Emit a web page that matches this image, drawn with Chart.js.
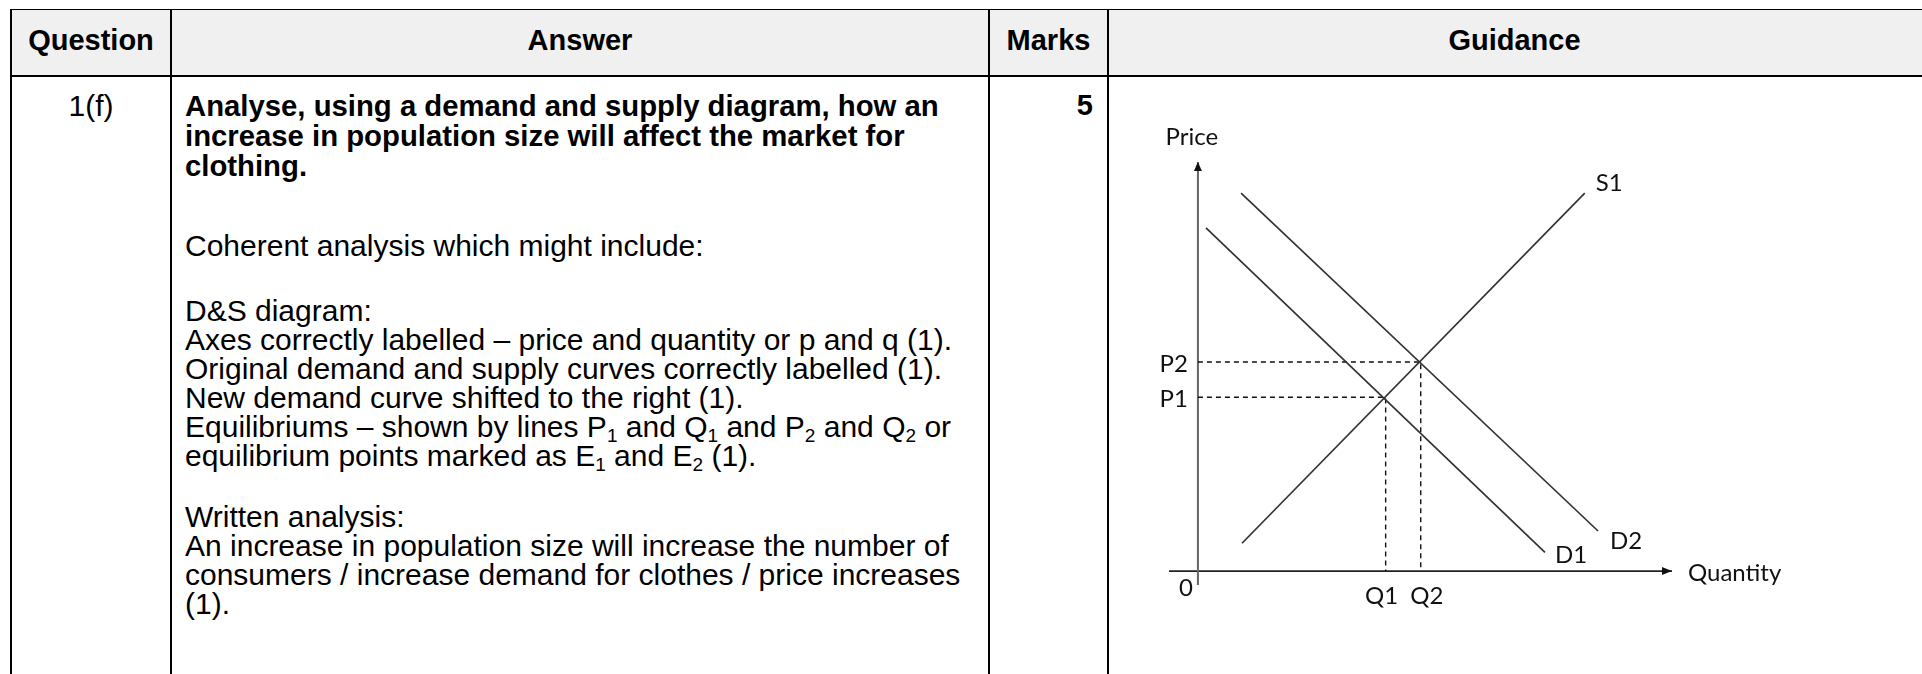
<!DOCTYPE html>
<html lang="en">
<head>
<meta charset="UTF-8">
<title>1(f) Mark scheme</title>
<style>
    body {
        margin: 0;
        width: 1922px;
        height: 674px;
        overflow: hidden;
        position: relative;
        background: #fff;
        font-family: "Liberation Sans", Arial, sans-serif;
        color: #000;
    }
    table {
        position: absolute;
        left: 10px;
        top: 9px;
        border-collapse: collapse;
        table-layout: fixed;
        width: 1940px;
    }
    th, td {
        border: 2px solid #000;
        padding: 0;
        vertical-align: top;
    }
    th {
        background: #f0f0f0;
        font-size: 29px;
        font-weight: bold;
        height: 60px;
        padding-bottom: 5px;
        vertical-align: middle;
        text-align: center;
        border-top-width: 1px;
        border-bottom-width: 2px;
    }
    td {
        height: 700px;
        font-size: 30px;
        line-height: 29px;
        padding-top: 14px;
    }
    .b { font-weight: bold; font-size: 29.3px; line-height: 30px; }
    .q { text-align: center; }
    .ans { padding-left: 13px; white-space: nowrap; }
    .marks { text-align: right; padding-right: 14px; font-weight: bold; font-size: 29px; }
    sub {
        font-size: 19px;
        vertical-align: -5px;
        line-height: 0;
    }
    #diagram {
        position: absolute;
        left: 1112px;
        top: 80px;
    }
</style>
</head>
<body>
    <table>
        <colgroup>
            <col style="width:160px">
            <col style="width:818px">
            <col style="width:119px">
            <col style="width:843px">
        </colgroup>
        <tr>
            <th>Question</th>
            <th>Answer</th>
            <th>Marks</th>
            <th style="padding-right:30px">Guidance</th>
        </tr>
        <tr>
            <td class="q">1(f)</td>
            <td class="ans">
                <div class="b">Analyse, using a demand and supply diagram, how an<br>
                increase in population size will affect the market for<br>
                clothing.</div>
                <div style="margin-top:50px">Coherent analysis which might include:</div>
                <div style="margin-top:36px">
                D&amp;S diagram:<br>
                Axes correctly labelled – price and quantity or p and q (1).<br>
                Original demand and supply curves correctly labelled (1).<br>
                New demand curve shifted to the right (1).<br>
                Equilibriums – shown by lines P<sub>1</sub> and Q<sub>1</sub> and P<sub>2</sub> and Q<sub>2</sub> or<br>
                equilibrium points marked as E<sub>1</sub> and E<sub>2</sub> (1).
                </div>
                <div style="margin-top:32px">
                Written analysis:<br>
                An increase in population size will increase the number of<br>
                consumers / increase demand for clothes / price increases<br>
                (1).
                </div>
            </td>
            <td class="marks">5</td>
            <td></td>
        </tr>
    </table>

    <canvas id="diagram" width="800" height="570"></canvas>

    <script src="https://cdn.jsdelivr.net/npm/chart.js"></script>
    <script>
        // diagram values: quantity on x, price on y (0-100 scale)
        const curveNames = ['S1', 'D1', 'D2'];
        const supplyQ = [9.3, 81.6];
        const supplyP = [6.8, 92.4];
        const demand1Q = [1.7, 73.2];
        const demand1P = [83.9, 4.6];
        const demand2Q = [9.1, 84.4];
        const demand2P = [92.4, 9.8];
        const eqQ = [39.6, 47.0];   // Q1, Q2
        const eqP = [42.5, 51.1];   // P1, P2
        const priceTicks = ['P1', 'P2'];
        const qtyTicks = ['Q1', 'Q2'];
        const qtyRange = [-6.1, 100];
        const priceRange = [-3.4, 100];
        const axisTitles = ['Quantity', 'Price'];

        function pts(xs, ys) {
            return xs.map((x, i) => ({ x: x, y: ys[i] }));
        }

        var curveColor = '#333';
        var datasets = [
            { label: curveNames[0], data: pts(supplyQ, supplyP), borderColor: curveColor, borderWidth: 1.7 },
            { label: curveNames[1], data: pts(demand1Q, demand1P), borderColor: curveColor, borderWidth: 1.7 },
            { label: curveNames[2], data: pts(demand2Q, demand2P), borderColor: curveColor, borderWidth: 1.7 }
        ];
        // dashed equilibrium guides
        eqQ.forEach((q, i) => {
            datasets.push({
                label: priceTicks[i] + qtyTicks[i],
                data: [{ x: 0, y: eqP[i] }, { x: q, y: eqP[i] }, { x: q, y: 0 }],
                borderColor: '#111',
                borderWidth: 1.4,
                borderDash: [5, 4]
            });
        });
        // axes
        datasets.push({ label: 'price axis', data: [{ x: 0, y: priceRange[0] }, { x: 0, y: priceRange[1] }], borderColor: '#666', borderWidth: 2 });
        datasets.push({ label: 'qty axis', data: [{ x: qtyRange[0], y: 0 }, { x: qtyRange[1], y: 0 }], borderColor: '#222', borderWidth: 1.7 });

        // text and arrow heads, placed from the scales
        const diagramText = {
            id: 'diagramText',
            afterDatasetsDraw(chart) {
                var ctx = chart.ctx;
                var xs = chart.scales.x, ys = chart.scales.y;
                var px = v => xs.getPixelForValue(v);
                var py = v => ys.getPixelForValue(v);
                ctx.save();

                // arrow heads
                ctx.fillStyle = '#111';
                var ax = px(0), ay = py(priceRange[1]);
                ctx.beginPath();
                ctx.moveTo(ax, ay); ctx.lineTo(ax - 4, ay + 9); ctx.lineTo(ax + 4, ay + 9);
                ctx.closePath(); ctx.fill();
                var bx = px(qtyRange[1]), by = py(0);
                ctx.beginPath();
                ctx.moveTo(bx, by); ctx.lineTo(bx - 10, by - 4); ctx.lineTo(bx - 10, by + 4);
                ctx.closePath(); ctx.fill();

                ctx.fillStyle = '#111';
                ctx.font = '24px Lato, "Open Sans", sans-serif';
                ctx.textBaseline = 'middle';

                ctx.textAlign = 'center';
                ctx.fillText(axisTitles[1], px(0) - 6, py(priceRange[1]) - 25);
                ctx.fillText('0', px(0) - 12, py(0) + 17);

                ctx.textAlign = 'left';
                ctx.fillText(axisTitles[0], px(qtyRange[1]) + 16, py(0) + 2);
                ctx.fillText(curveNames[0], px(supplyQ[1]) + 11, py(supplyP[1]) - 10);
                ctx.fillText(curveNames[1], px(demand1Q[1]) + 10, py(demand1P[1]) + 3);
                ctx.fillText(curveNames[2], px(demand2Q[1]) + 12, py(demand2P[1]) + 10);

                ctx.textAlign = 'right';
                priceTicks.forEach((t, i) => ctx.fillText(t, px(0) - 10, py(eqP[i]) + 2));

                ctx.textAlign = 'center';
                var nudge = [-4, 6];
                qtyTicks.forEach((t, i) => ctx.fillText(t, px(eqQ[i]) + nudge[i], py(0) + 25));

                ctx.restore();
            }
        };

        window.onload = function() {
            var ctx = document.getElementById('diagram').getContext('2d');
            new Chart(ctx, {
                type: 'scatter',
                data: { datasets: datasets },
                options: {
                    responsive: false,
                    animation: false,
                    showLine: true,
                    clip: false,
                    elements: { point: { radius: 0, hoverRadius: 0 }, line: { tension: 0 } },
                    layout: { autoPadding: false, padding: { left: 57, top: 82, right: 240, bottom: 65 } },
                    plugins: { legend: { display: false }, tooltip: { enabled: false } },
                    events: [],
                    scales: {
                        x: { type: 'linear', min: qtyRange[0], max: qtyRange[1], display: false },
                        y: { type: 'linear', min: priceRange[0], max: priceRange[1], display: false }
                    }
                },
                plugins: [diagramText]
            });
        };
    </script>
</body>
</html>
